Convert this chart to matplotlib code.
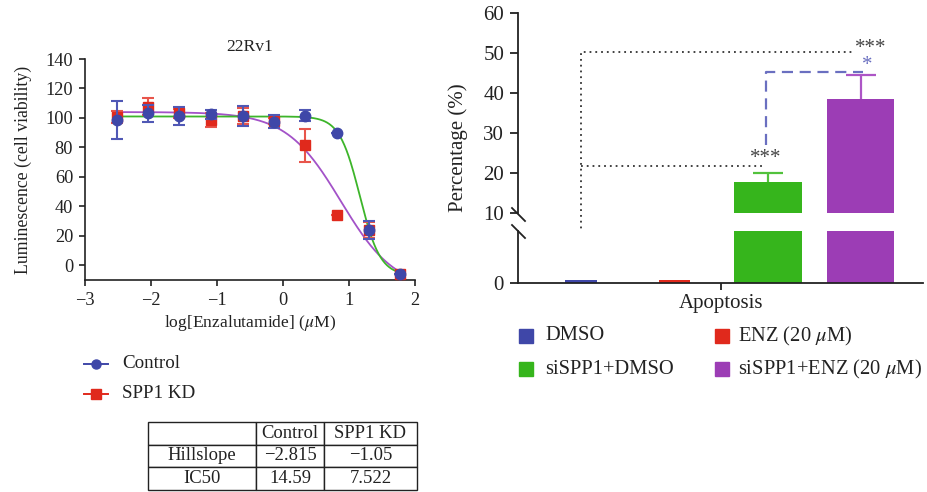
import numpy as np
import matplotlib
matplotlib.use("Agg")
import matplotlib.pyplot as plt
from matplotlib.lines import Line2D
from matplotlib.patches import Rectangle

plt.rcParams['font.family'] = ['Liberation Serif', 'DejaVu Serif']
plt.rcParams['mathtext.fontset'] = 'stix'
plt.rcParams['axes.unicode_minus'] = True

# ---------------- data ----------------
log_conc = [-2.52, -2.05, -1.57, -1.09, -0.61, -0.14, 0.34, 0.82, 1.30, 1.78]
ctrl_mean = [98.6, 103.1, 101.3, 102.4, 101.3, 97.4, 101.5, 90.0, 23.8, -6.0]
ctrl_err = [12.7, 6.0, 6.2, 3.2, 7.0, 4.5, 3.6, 0.0, 6.3, 0.0]
kd_mean = [100.4, 107.6, 103.1, 98.6, 101.3, 97.9, 81.4, 34.4, 23.8, -6.0]
kd_err = [4.0, 5.7, 3.0, 4.5, 5.5, 2.0, 11.0, 0.0, 5.5, 0.0]

# four-parameter logistic fits (top, bottom, IC50 in uM, hillslope)
ctrl_fit = dict(top=101.0, bottom=-7.0, ic50=14.59, hill=-2.815)
kd_fit = dict(top=104.0, bottom=-17.0, ic50=7.522, hill=-1.05)

table_cols = ["", "Control", "SPP1 KD"]
table_rows = [["Hillslope", "\u22122.815", "\u22121.05"],
              ["IC50", "14.59", "7.522"]]

groups = ["DMSO", r"ENZ (20 $\mu$M)", "siSPP1+DMSO", r"siSPP1+ENZ (20 $\mu$M)"]
apop_vals = [0.6, 0.6, 17.75, 38.5]
apop_err = [0.0, 0.0, 2.35, 5.9]

# ---------------- colours ----------------
C_BLUE = "#3f47a8"
C_RED = "#e0291c"
C_GREEN = "#36b51c"
C_PURPLE = "#9c3db5"
C_GCURVE = "#3db52a"
C_PCURVE = "#a352c8"

W, H = 927, 492
fig = plt.figure(figsize=(W / 100, H / 100), dpi=100)


def rect(x0, y0, x1, y1):
    return [x0 / W, 1 - y1 / H, (x1 - x0) / W, (y1 - y0) / H]


def fx(px):
    return px / W


def fy(py):
    return 1 - py / H


# ---------------- left: dose response ----------------
axL = fig.add_axes(rect(85, 59, 415, 280))
xs = np.linspace(log_conc[0], log_conc[-1], 400)


def logistic(x, p):
    return p['bottom'] + (p['top'] - p['bottom']) / (1 + 10 ** ((np.log10(p['ic50']) - x) * p['hill']))


axL.plot(xs, logistic(xs, kd_fit), color=C_PCURVE, lw=1.3, zorder=2)
axL.plot(xs, logistic(xs, ctrl_fit), color=C_GCURVE, lw=1.3, zorder=2)

axL.errorbar(log_conc, kd_mean, yerr=kd_err, fmt='s', color=C_RED, ms=7,
             ecolor="#e8554b", elinewidth=1.5, capsize=4.5, capthick=1.5, zorder=3)
axL.errorbar(log_conc, ctrl_mean, yerr=ctrl_err, fmt='o', color=C_BLUE, ms=7.5,
             ecolor="#5058b5", elinewidth=1.5, capsize=4.5, capthick=1.5, zorder=4)

axL.set_xlim(-3, 2)
axL.set_ylim(-10, 140)
axL.set_xticks([-3, -2, -1, 0, 1, 2])
axL.set_yticks(np.arange(0, 141, 20))
for s in ['top', 'right']:
    axL.spines[s].set_visible(False)
for s in ['left', 'bottom']:
    axL.spines[s].set_linewidth(1.2)
    axL.spines[s].set_color("#222222")
axL.tick_params(labelsize=13.2, length=4.5, width=1.2, pad=4, colors="#222222")
axL.set_title("22Rv1", fontsize=12.6, pad=6, color="#222222")
axL.set_xlabel(r"log[Enzalutamide] ($\mu$M)", fontsize=12.6, labelpad=3, color="#222222")
axL.set_ylabel("Luminescence (cell viability)", fontsize=12.8, labelpad=10, color="#222222")

# left legend (manual)
for yy, col, mk, lab in [(364, C_BLUE, 'o', "Control"), (394, C_RED, 's', "SPP1 KD")]:
    fig.add_artist(Line2D([fx(84), fx(108)], [fy(yy), fy(yy)], color=col, lw=1.4,
                          transform=fig.transFigure))
    fig.add_artist(Line2D([fx(96)], [fy(yy)], color=col, marker=mk, ms=6.5,
                          transform=fig.transFigure))
    fig.text(fx(122), fy(yy), lab, fontsize=13.7, va='center', ha='left', color="#222222")

# table
axT = fig.add_axes(rect(148, 422, 417, 490))
axT.axis('off')
tb = axT.table(cellText=table_rows, colLabels=table_cols, cellLoc='center',
               colWidths=[108 / 269, 68 / 269, 93 / 269], bbox=[0, 0, 1, 1])
tb.auto_set_font_size(False)
for (r, c), cell in tb.get_celld().items():
    cell.set_fontsize(13.4)
    cell.set_linewidth(1.0)
    cell.set_edgecolor("#222222")
    cell.get_text().set_color("#222222")

# ---------------- right: broken-axis bar chart ----------------
xpos = [-1.5, -0.5, 0.5, 1.5]
widths = [0.34, 0.34, 0.73, 0.72]
colors = [C_BLUE, C_RED, C_GREEN, C_PURPLE]
ecolors = [C_BLUE, C_RED, "#52c23c", "#ad55c6"]

axU = fig.add_axes(rect(518, 13, 923, 213))
axD = fig.add_axes(rect(518, 231, 923, 283))

for ax in (axU, axD):
    ax.bar(xpos, apop_vals, width=widths, color=colors, zorder=2)
    ax.set_xlim(-2.18, 2.17)
    for s in ['top', 'right']:
        ax.spines[s].set_visible(False)
    ax.spines['left'].set_linewidth(1.3)
    ax.spines['left'].set_color("#222222")
    ax.tick_params(labelsize=15, length=6, width=1.3, pad=4, colors="#222222")

for i in range(len(xpos)):
    if apop_err[i] > 0:
        eb = axU.errorbar(xpos[i], apop_vals[i], yerr=[[0], [apop_err[i]]], fmt='none',
                          ecolor=ecolors[i], elinewidth=1.6, capsize=11, capthick=1.6, zorder=3)
        caps = eb[1]
        # hide the cap sitting on the bar top (lower cap)
        low = min(caps, key=lambda c: c.get_ydata()[0])
        low.set_visible(False)

axU.set_ylim(10, 60)
axU.set_yticks([10, 20, 30, 40, 50, 60])
axU.spines['bottom'].set_visible(False)
axU.set_xticks([])

axD.set_ylim(0, 10)
axD.set_yticks([0])
axD.set_xticks([0])
axD.set_xticklabels(["Apoptosis"])
axD.spines['bottom'].set_linewidth(1.3)
axD.spines['bottom'].set_color("#222222")
axD.tick_params(axis='x', length=5, pad=3)

fig.text(fx(458), fy(148), "Percentage (%)", rotation=90, fontsize=15,
         ha='center', va='center', color="#222222")

# break marks
for (x0, y0, x1, y1) in [(512, 208, 525, 221), (512, 225, 525, 238)]:
    fig.add_artist(Line2D([fx(x0), fx(x1)], [fy(y0), fy(y1)], color="#222222", lw=1.3,
                          transform=fig.transFigure))

# significance annotations (upper axes data coords, unclipped)
axU.plot([-1.5, -1.5, 1.44], [-2.5, 50.2, 50.2], ls=(0, (1, 2.2)), color="#333333",
         lw=1.3, clip_on=False, zorder=5)
axU.plot([-1.5, 0.45], [21.7, 21.7], ls=(0, (1, 2.2)), color="#333333",
         lw=1.3, clip_on=False, zorder=5)
axU.plot([0.48, 0.48, 1.53], [27.0, 45.3, 45.3], ls=(0, (5, 3)), color="#6a6fc0",
         lw=1.6, clip_on=False, zorder=5)
axU.text(1.61, 51.2, "***", fontsize=15, ha='center', va='center', color="#444444")
axU.text(0.48, 23.5, "***", fontsize=15, ha='center', va='center', color="#444444")
axU.text(1.57, 46.9, "*", fontsize=15, ha='center', va='center', color="#6a6fc0")

# right legend (manual)
leg_pos = [(526, 336, 545), (722, 336, 738), (526, 369, 545), (722, 369, 738)]
for (cx, cy, tx), col, lab in zip(leg_pos, colors, groups):
    fig.add_artist(Rectangle((fx(cx - 7), fy(cy + 7)), 14 / W, 14 / H, color=col,
                             transform=fig.transFigure))
    fig.text(fx(tx), fy(cy), lab, fontsize=14.8, va='center', ha='left', color="#222222")

fig.savefig("out.png", dpi=100)
